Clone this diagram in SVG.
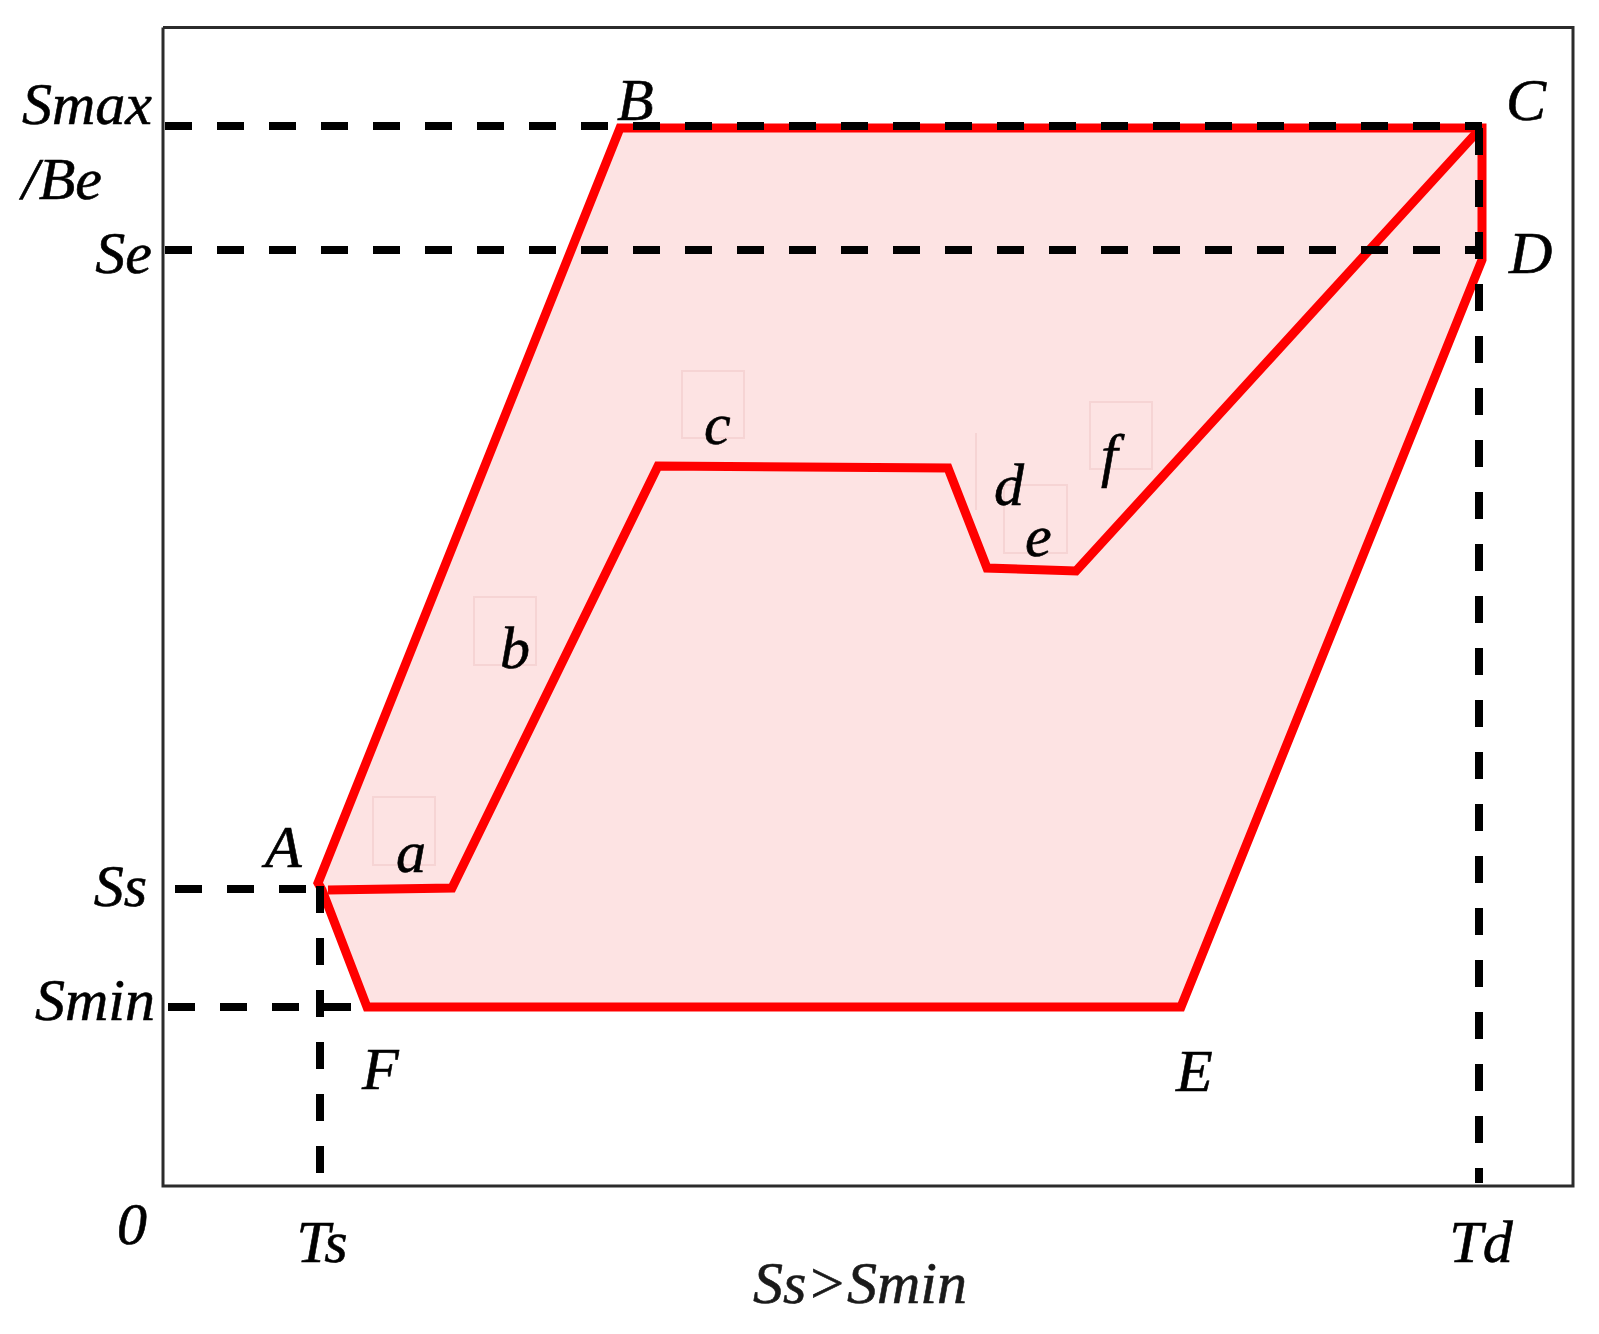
<svg xmlns="http://www.w3.org/2000/svg" width="1599" height="1334" viewBox="0 0 1599 1334">
<style>
  text{font-family:'Liberation Serif','Times New Roman',Times,serif;font-style:italic;font-size:60px;fill:#000;stroke:#000;stroke-width:0.6}
  .axis{fill:#1a1a1a;stroke:#1a1a1a}
  .dash{fill:none;stroke:#000;stroke-width:8;stroke-dasharray:27 25}
  .red{fill:none;stroke:#ff0000;stroke-width:9;stroke-linejoin:miter}
  .ghost{fill:none;stroke:#f6d4d4;stroke-width:2}
</style>
<rect width="1599" height="1334" fill="#fff"/>
<g id="region">
  <polygon points="318,883 620,128 1482,128 1482,260 1181,1007 367,1007 322,890" fill="#fde3e3" stroke="#ff0000" stroke-width="9" stroke-linejoin="miter"/>
</g>
<g id="ghost-boxes">
  <rect class="ghost" x="373" y="797" width="62" height="68"/>
  <rect class="ghost" x="474" y="597" width="62" height="68"/>
  <rect class="ghost" x="682" y="371" width="62" height="67"/>
  <rect class="ghost" x="1004" y="485" width="63" height="68"/>
  <rect class="ghost" x="1090" y="402" width="62" height="67"/>
  <line class="ghost" x1="976" y1="433" x2="976" y2="510"/>
</g>
<g id="connectors">
  <polyline class="red" points="328,890 452,888 658,466 948,468 987,568 1076,571 1479,130"/>
  <line class="dash" x1="165" y1="126" x2="1482" y2="126"/>
  <line class="dash" x1="165" y1="250" x2="1482" y2="250"/>
  <line class="dash" x1="175" y1="889" x2="318" y2="889"/>
  <line class="dash" x1="168" y1="1007" x2="362" y2="1007"/>
  <line class="dash" x1="320" y1="886" x2="320" y2="1183"/>
  <line class="dash" x1="1479" y1="128" x2="1479" y2="1183"/>
</g>
<g id="frame">
  <polyline points="163,27.5 1573,27.5 1573,1186 163,1186 163,27.5" fill="none" stroke="#2b2b2b" stroke-width="3"/>
</g>
<g id="labels">
  <text x="22" y="124">Smax</text>
  <text x="22" y="199">/Be</text>
  <text x="152" y="273" text-anchor="end">Se</text>
  <text x="147" y="906" text-anchor="end">Ss</text>
  <text x="155" y="1020" text-anchor="end">Smin</text>
  <text x="132" y="1244" text-anchor="middle">0</text>
  <text x="322" y="1262" text-anchor="middle">Ts</text>
  <text x="1481" y="1262" text-anchor="middle">Td</text>
  <text class="axis" x="860" y="1303" text-anchor="middle">Ss&gt;Smin</text>
  <text x="617" y="120">B</text>
  <text x="1506" y="120">C</text>
  <text x="1509" y="273">D</text>
  <text x="265" y="867">A</text>
  <text x="362" y="1089">F</text>
  <text x="1176" y="1091">E</text>
  <text x="396" y="872">a</text>
  <text x="500" y="668">b</text>
  <text x="704" y="444">c</text>
  <text x="994" y="505">d</text>
  <text x="1025" y="556">e</text>
  <text x="1101" y="475">f</text>
</g>
</svg>
